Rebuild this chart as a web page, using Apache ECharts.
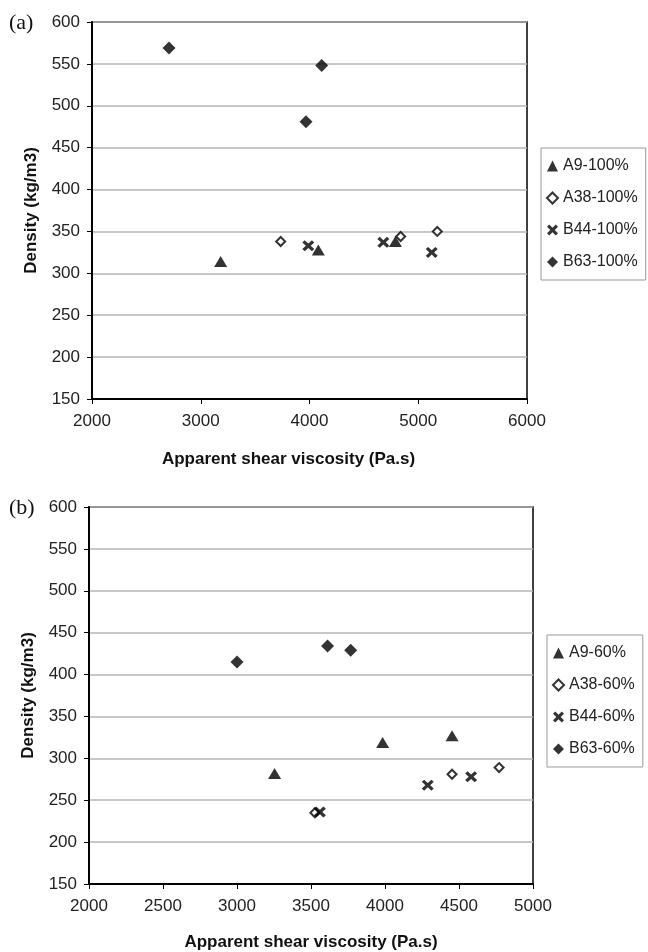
<!DOCTYPE html>
<html lang="en">
<head>
    <meta charset="UTF-8">
    <title>Density vs viscosity</title>
    <script src="https://cdn.jsdelivr.net/npm/echarts@6/dist/echarts.min.js"></script>
    <style>
        body { margin: 0; background: #fff; }
    </style>
</head>
<body>
<div id="main" style="width: 648px;height:952px;"></div>
<script type="text/javascript">
    // series names
    var namesA = ['A9-100%', 'A38-100%', 'B44-100%', 'B63-100%'];
    var namesB = ['A9-60%', 'A38-60%', 'B44-60%', 'B63-60%'];

    // (a) 100% points: [viscosity, density]
    var a9_100 = [[3183, 314], [4081, 328], [4790, 338]];
    var a38_100 = [[3735, 338], [4838, 344], [5175, 350]];
    var b44_100 = [[3989, 333], [4679, 337], [5124, 325]];
    var b63_100 = [[2708, 569], [3968, 481], [4112, 548]];

    // (b) 60% points
    var a9_60 = [[3254, 282], [3984, 319], [4453, 327]];
    var a38_60 = [[3526, 235], [4453, 281], [4771, 289]];
    var b44_60 = [[3560, 236], [4289, 268], [4582, 278]];
    var b63_60 = [[3000, 415], [3612, 434], [3768, 429]];

    // axis ranges
    var yMin = 150, yMax = 600, yStep = 50;
    var xA = [2000, 6000, 1000];
    var xB = [2000, 5000, 500];

    var font = 'Liberation Sans, Arial, sans-serif';
    var crossPath = 'path://M2,0 L5,3 L8,0 L10,2 L7,5 L10,8 L8,10 L5,7 L2,10 L0,8 L3,5 L0,2 Z';

    // marker style per group (triangle, open diamond, cross, filled diamond)
    function mk(name, data, idx, kind) {
        var s = {
            name: name,
            type: 'scatter',
            xAxisIndex: idx,
            yAxisIndex: idx,
            data: data,
            itemStyle: { color: '#000' }
        };
        if (kind == 0) { s.symbol = 'triangle'; s.symbolSize = [13, 11]; }
        if (kind == 1) {
            s.symbol = 'diamond'; s.symbolSize = 9;
            s.itemStyle = { color: '#fff', borderColor: '#000', borderWidth: 2 };
        }
        if (kind == 2) { s.symbol = crossPath; s.symbolSize = [12, 11]; }
        if (kind == 3) { s.symbol = 'diamond'; s.symbolSize = 13; }
        return s;
    }

    function xAxisOf(idx, r, nameShift, gap) {
        return {
            type: 'value', gridIndex: idx,
            min: r[0], max: r[1], interval: r[2],
            name: 'Apparent shear viscosity (Pa.s)',
            nameLocation: 'middle', nameGap: gap,
            nameTextStyle: { fontFamily: font, fontSize: 17, fontWeight: 'bold', color: '#111', padding: [0, nameShift, 0, 0] },
            axisLine: { lineStyle: { color: '#000', width: 2 } },
            axisTick: { show: true, length: 5, lineStyle: { color: '#000' } },
            axisLabel: {
                fontFamily: font, fontSize: 17, color: '#222', margin: 14,
                formatter: function (v) { return String(v); }
            },
            splitLine: { show: false }
        };
    }

    function yAxisOf(idx) {
        return {
            type: 'value', gridIndex: idx,
            min: yMin, max: yMax, interval: yStep,
            name: 'Density (kg/m3)',
            nameLocation: 'middle', nameGap: 52,
            nameTextStyle: { fontFamily: font, fontSize: 17, fontWeight: 'bold', color: '#111' },
            axisLine: { show: true, lineStyle: { color: '#000', width: 2 } },
            axisTick: { show: true, length: 5, lineStyle: { color: '#000' } },
            axisLabel: { fontFamily: font, fontSize: 17, color: '#222', margin: 12 },
            splitLine: { show: true, lineStyle: { color: '#b4b4b4', width: 1.5 } }
        };
    }

    function legendOf(names, left, top) {
        return {
            data: names, orient: 'vertical',
            left: left, top: top,
            padding: [10, 8, 10, 5],
            itemGap: 16, itemWidth: 11, itemHeight: 11,
            borderColor: '#999', borderWidth: 1,
            textStyle: { fontFamily: font, fontSize: 16, color: '#222' }
        };
    }

    var myChart = echarts.init(document.getElementById('main'));

    myChart.setOption({
        animation: false,
        backgroundColor: '#fff',
        grid: [
            { left: 92, top: 22, width: 435, height: 377, show: true, borderColor: '#000', borderWidth: 1.5 },
            { left: 89, top: 507, width: 444, height: 377, show: true, borderColor: '#000', borderWidth: 1.5 }
        ],
        xAxis: [xAxisOf(0, xA, 42, 52), xAxisOf(1, xB, 0, 50)],
        yAxis: [yAxisOf(0), yAxisOf(1)],
        legend: [legendOf(namesA, 541, 148), legendOf(namesB, 547, 635)],
        graphic: [
            { type: 'text', left: 9, top: 12, style: { text: '(a)', font: '22px "Liberation Serif", serif', fill: '#111' } },
            { type: 'text', left: 9, top: 497, style: { text: '(b)', font: '22px "Liberation Serif", serif', fill: '#111' } }
        ],
        series: [
            mk(namesA[0], a9_100, 0, 0),
            mk(namesA[1], a38_100, 0, 1),
            mk(namesA[2], b44_100, 0, 2),
            mk(namesA[3], b63_100, 0, 3),
            mk(namesB[0], a9_60, 1, 0),
            mk(namesB[1], a38_60, 1, 1),
            mk(namesB[2], b44_60, 1, 2),
            mk(namesB[3], b63_60, 1, 3)
        ]
    });
</script>
</body>
</html>
